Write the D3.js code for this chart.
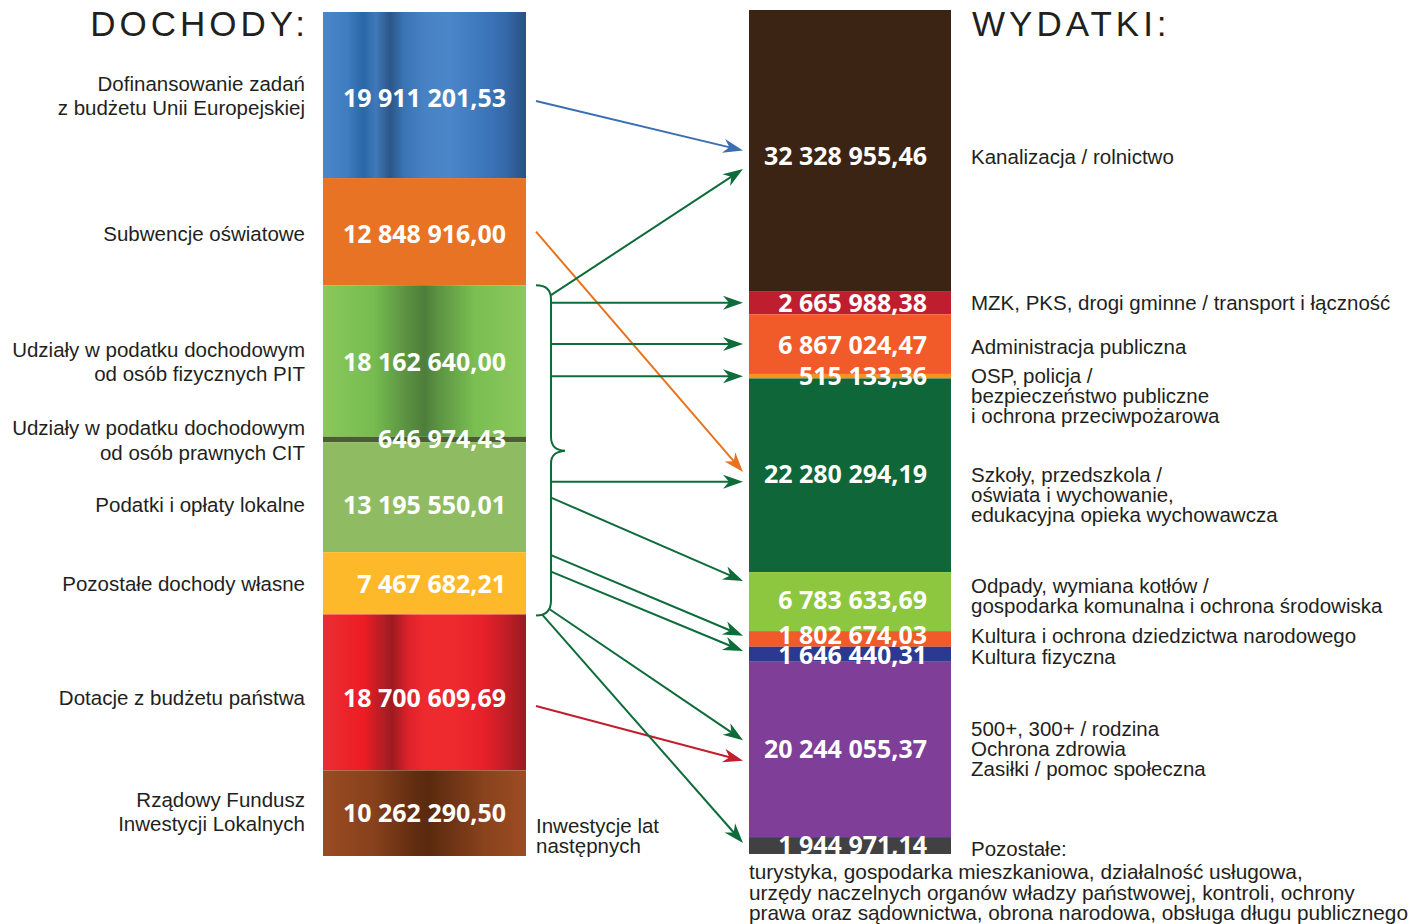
<!DOCTYPE html>
<html>
<head>
<meta charset="utf-8">
<script src="https://cdn.jsdelivr.net/npm/d3@7"></script>
<style>
  html, body { margin: 0; padding: 0; background: #fff; }
  svg { display: block; }
</style>
</head>
<body>
<svg id="chart" width="1422" height="924"></svg>
<script>
// ---------------- DATA ----------------
const incomeCategories = [
  "Dofinansowanie zadań\nz budżetu Unii Europejskiej",
  "Subwencje oświatowe",
  "Udziały w podatku dochodowym\nod osób fizycznych PIT",
  "Udziały w podatku dochodowym\nod osób prawnych CIT",
  "Podatki i opłaty lokalne",
  "Pozostałe dochody własne",
  "Dotacje z budżetu państwa",
  "Rządowy Fundusz\nInwestycji Lokalnych"
];
const incomeValues = [19911201.53, 12848916.00, 18162640.00, 646974.43, 13195550.01, 7467682.21, 18700609.69, 10262290.50];

const expenseCategories = [
  "Kanalizacja / rolnictwo",
  "MZK, PKS, drogi gminne / transport i łączność",
  "Administracja publiczna",
  "OSP, policja /\nbezpieczeństwo publiczne\ni ochrona przeciwpożarowa",
  "Szkoły, przedszkola /\noświata i wychowanie,\nedukacyjna opieka wychowawcza",
  "Odpady, wymiana kotłów /\ngospodarka komunalna i ochrona środowiska",
  "Kultura i ochrona dziedzictwa narodowego",
  "Kultura fizyczna",
  "500+, 300+ / rodzina\nOchrona zdrowia\nZasiłki / pomoc społeczna",
  "Pozostałe:"
];
const expenseValues = [32328955.46, 2665988.38, 6867024.47, 515133.36, 22280294.19, 6783633.69, 1802674.03, 1646440.31, 20244055.37, 1944971.14];
const otherExpensesNote = [
  "turystyka, gospodarka mieszkaniowa, działalność usługowa,",
  "urzędy naczelnych organów władzy państwowej, kontroli, ochrony",
  "prawa oraz sądownictwa, obrona narodowa, obsługa długu publicznego"
];
// the group of own incomes (PIT, CIT, local taxes, other own) joined by the brace
const ownIncomeGroup = [2, 3, 4, 5];
// flows: [income index or "own", expense index]
const flows = [
  [0, 0], [1, 4], [6, 8],
  ["own", 0], ["own", 1], ["own", 2], ["own", 3], ["own", 4],
  ["own", 5], ["own", 6], ["own", 7], ["own", 8], ["own", 9]
];
const titles = ["DOCHODY:", "WYDATKI:"];
const carryOverLabel = "Inwestycje lat\nnastępnych";

// ---------------- STYLES / LAYOUT ----------------
const leftX = 323, leftW = 203;
const rightX = 749, rightW = 202;
const svg = d3.select("#chart");
const defs = svg.append("defs");

const incomeFill = [
  {grad: [[0,"#4a87c9"],[0.12,"#3f7cc0"],[0.2,"#2a67a6"],[0.26,"#4079ba"],[0.33,"#2c5687"],[0.4,"#3a74b6"],[0.5,"#4782c4"],[0.62,"#4a86c8"],[0.8,"#3b76bb"],[0.9,"#3569a9"],[1,"#2b5083"]]},
  {solid: "#e87324"},
  {grad: [[0,"#8bc85b"],[0.25,"#76bc50"],[0.4,"#5d9443"],[0.5,"#4e7e3b"],[0.58,"#5e9644"],[0.75,"#7abf52"],[1,"#8cc85c"]]},
  {solid: "#4b5e2f"},
  {solid: "#8fbc63"},
  {solid: "#fdb929"},
  {grad: [[0,"#ea2e33"],[0.2,"#ed1c24"],[0.3,"#b01e24"],[0.34,"#9c1b20"],[0.42,"#dd2229"],[0.5,"#ef2a2f"],[0.65,"#ee2a2e"],[0.8,"#e5202a"],[0.9,"#c21d26"],[1,"#991b21"]]},
  {grad: [[0,"#9b4b22"],[0.25,"#87411c"],[0.45,"#622d10"],[0.52,"#5a2a0e"],[0.62,"#6b3214"],[0.8,"#8a431d"],[1,"#9d4c22"]]}
];
const expenseColors = ["#3c2415","#be1e2d","#f15a29","#f7941d","#0f6638","#8dc63f","#f15a29","#2b3990","#7f3f98","#414042"];

incomeFill.forEach((f, i) => {
  if (f.grad) {
    const g = defs.append("linearGradient").attr("id", "g" + i)
      .attr("x1", "0%").attr("x2", "100%").attr("y1", "0%").attr("y2", "0%");
    f.grad.forEach(s => g.append("stop").attr("offset", s[0]).attr("stop-color", s[1]));
  }
});
const incFill = i => incomeFill[i].grad ? `url(#g${i})` : incomeFill[i].solid;

function stack(values) {
  let acc = 0;
  return values.map(v => { const s = acc; acc += v; return {y0: s, y1: acc, v}; });
}
const incStack = stack(incomeValues);
const expStack = stack(expenseValues);
const yL = d3.scaleLinear().domain([0, d3.sum(incomeValues)]).range([12, 856]);
const yR = d3.scaleLinear().domain([0, d3.sum(expenseValues)]).range([10, 854]);

const fmt = v => {
  const [int, dec] = v.toFixed(2).split(".");
  return int.replace(/\B(?=(\d{3})+(?!\d))/g, " ") + "," + dec;
};

const labelFont = "'Liberation Sans', Arial, sans-serif";
const valueFont = "'Open Sans', 'Noto Sans', sans-serif";
const textColor = "#231f20";

// ---------- bars ----------
svg.append("g").selectAll("rect").data(incStack).join("rect")
  .attr("x", leftX).attr("width", leftW)
  .attr("y", d => yL(d.y0)).attr("height", d => yL(d.y1) - yL(d.y0))
  .attr("fill", (d, i) => incFill(i));

svg.append("g").selectAll("rect").data(expStack).join("rect")
  .attr("x", rightX).attr("width", rightW)
  .attr("y", d => yR(d.y0)).attr("height", d => yR(d.y1) - yR(d.y0))
  .attr("fill", (d, i) => expenseColors[i]);

// ---------- value labels ----------
const valStyle = sel => sel.attr("font-family", valueFont).attr("font-weight", 700)
  .attr("font-size", 25).attr("fill", "#fff")
  .attr("text-anchor", "end").attr("dominant-baseline", "central");

const incValOffset = [2, 1, 0, -1, 7, 0, 5, -1];
svg.append("g").selectAll("text").data(incStack).join("text")
  .call(valStyle)
  .attr("x", 506)
  .attr("y", (d, i) => (yL(d.y0) + yL(d.y1)) / 2 + incValOffset[i])
  .text(d => fmt(d.v));

const expValOffset = [4, -1, 0, -1, -2, -3, -5, 0, -1, -2];
svg.append("g").selectAll("text").data(expStack).join("text")
  .call(valStyle)
  .attr("x", 927)
  .attr("y", (d, i) => (yR(d.y0) + yR(d.y1)) / 2 + expValOffset[i])
  .text(d => fmt(d.v));

// ---------- category labels ----------
function multiline(g, x, yCenter, lines, lh, anchorLine, anchor, size) {
  const t = g.append("text").attr("x", x).attr("font-family", labelFont)
    .attr("font-size", size || 20.5).attr("fill", textColor).attr("text-anchor", anchor)
    .attr("dominant-baseline", "central");
  const a = anchorLine == null ? (lines.length - 1) / 2 : anchorLine;
  lines.forEach((l, k) => t.append("tspan").attr("x", x).attr("y", yCenter + (k - a) * lh).text(l));
}
const gl = svg.append("g");
const incLabOffset = [0, 1, 0, 0, 7, 0, 5, -2];
incStack.forEach((d, i) => {
  multiline(gl, 305, (yL(d.y0) + yL(d.y1)) / 2 + incLabOffset[i], incomeCategories[i].split("\n"), 24.5, null, "end");
});
const expLabAnchor = [null, null, null, 0, 0, 1, null, null, null, null];
const expLabOffset = [5, -1, 2, -1, -1, 3, -4, 2, -1, 2];
expStack.forEach((d, i) => {
  multiline(gl, 971, (yR(d.y0) + yR(d.y1)) / 2 + expLabOffset[i], expenseCategories[i].split("\n"), 20, expLabAnchor[i], "start");
});
multiline(gl, 749, 871, otherExpensesNote, 20.5, 0, "start", 20.8);
multiline(gl, 536, 825, carryOverLabel.split("\n"), 20, 0, "start");

// titles
svg.append("text").attr("x", 309).attr("y", 36).attr("text-anchor", "end")
  .attr("font-family", labelFont).attr("font-size", 35).attr("letter-spacing", "4px")
  .attr("fill", textColor).text(titles[0]);
svg.append("text").attr("x", 972).attr("y", 36).attr("text-anchor", "start")
  .attr("font-family", labelFont).attr("font-size", 35).attr("letter-spacing", "4px")
  .attr("fill", textColor).text(titles[1]);

// ---------- brace ----------
const green = "#0e6b3a";
const braceTop = yL(incStack[ownIncomeGroup[0]].y0);
const braceBot = yL(incStack[ownIncomeGroup[ownIncomeGroup.length - 1]].y1);
const braceMid = (braceTop + braceBot) / 2;
const bx0 = 536, bx = 551, bxp = 565;
const bp = d3.path();
bp.moveTo(bx0, braceTop);
bp.bezierCurveTo(bx0 + 10, braceTop, bx, braceTop + 4, bx, braceTop + 14);
bp.lineTo(bx, braceMid - 13);
bp.bezierCurveTo(bx, braceMid - 3, bx + 5, braceMid, bxp, braceMid + 1);
bp.bezierCurveTo(bx + 5, braceMid + 2, bx, braceMid + 5, bx, braceMid + 14);
bp.lineTo(bx, braceBot - 14);
bp.bezierCurveTo(bx, braceBot - 4, bx0 + 10, braceBot + 1, bx0, braceBot + 1);
svg.append("path").attr("d", bp.toString()).attr("fill", "none")
  .attr("stroke", green).attr("stroke-width", 2);

// ---------- arrows ----------
const arrowColor = {0: "#3a6fb3", 1: "#e8731e", 6: "#c01e2e", own: green};
Object.entries(arrowColor).forEach(([k, c]) => {
  defs.append("marker").attr("id", "m" + k).attr("viewBox", "-21 -8 22 16")
    .attr("refX", 0).attr("refY", 0).attr("markerUnits", "userSpaceOnUse")
    .attr("markerWidth", 22).attr("markerHeight", 16).attr("orient", "auto")
    .append("path").attr("d", "M-20,-7 L0,0 L-20,7 L-14,0 Z").attr("fill", c);
});
const arrowStart = [0.536, 0.5, 0.587, 0.03, null, null, null, null, 0.645, 0.82, 0.87, 0.985, 1.0];
const arrowStartX = [536, 536, 536, 551, 551, 551, 551, 551, 551, 551, 551, 550, 542];
const arrowEnd = [0.5, 0.483, 0.566, 0.566, 0.5, 0.5, 0.5, 0.534, 0.15, 0.3, 0.3, 0.45, 0.35];
const tipX = 743;
const ga = svg.append("g");
flows.forEach((f, k) => {
  const [src, tgt] = f;
  const t = expStack[tgt];
  const y1 = yR(t.y0 + arrowEnd[k] * t.v);
  let y0;
  if (src === "own") {
    y0 = arrowStart[k] == null ? y1 : braceTop + arrowStart[k] * (braceBot - braceTop);
  } else {
    const s = incStack[src];
    y0 = yL(s.y0 + arrowStart[k] * s.v);
  }
  const len = Math.hypot(tipX - arrowStartX[k], y1 - y0);
  const ang = Math.atan2(y1 - y0, tipX - arrowStartX[k]);
  ga.append("line").attr("x1", arrowStartX[k]).attr("y1", y0)
    .attr("x2", tipX - Math.cos(ang) * 6).attr("y2", y1 - Math.sin(ang) * 6)
    .attr("stroke", arrowColor[src]).attr("stroke-width", 2);
  ga.append("path")
    .attr("d", `M${tipX - Math.cos(ang) * 2},${y1 - Math.sin(ang) * 2} L${tipX},${y1}`)
    .attr("stroke", "none").attr("fill", "none")
    .attr("marker-end", `url(#m${src})`);
});
</script>
</body>
</html>
